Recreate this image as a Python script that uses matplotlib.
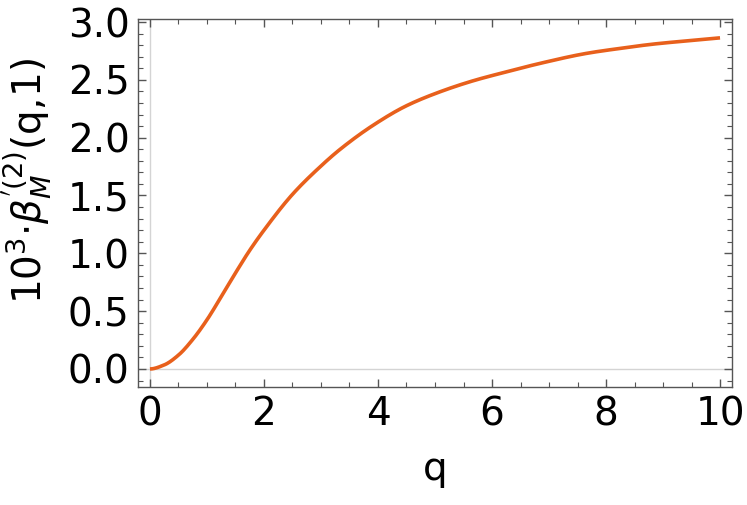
import matplotlib.pyplot as plt
from matplotlib.ticker import MultipleLocator
import numpy as np

# values
q = [0.0, 0.25, 0.5, 0.75, 1.0, 1.25, 1.5, 1.75, 2.0, 2.5, 3.0, 3.33, 3.92,
     4.50, 5.09, 5.67, 6.26, 6.84, 7.66, 8.25, 8.83, 9.42, 10.0]
beta = [0.0, 0.035, 0.12, 0.255, 0.425, 0.625, 0.83, 1.026, 1.20, 1.51, 1.755, 1.897, 2.109,
        2.276, 2.397, 2.492, 2.570, 2.642, 2.729, 2.772, 2.809, 2.837, 2.863]

curve_color = '#e8601c'
frame_color = '#555555'


def pchip(x, y, xn):
    # monotone cubic interpolation through the read points
    x = np.asarray(x, float); y = np.asarray(y, float)
    h = np.diff(x); d = np.diff(y) / h
    m = np.zeros_like(y)
    for i in range(1, len(x) - 1):
        if d[i-1] * d[i] > 0:
            w1 = 2*h[i] + h[i-1]; w2 = h[i] + 2*h[i-1]
            m[i] = (w1 + w2) / (w1/d[i-1] + w2/d[i])
    m[0] = 0.0; m[-1] = d[-1]
    idx = np.clip(np.searchsorted(x, xn) - 1, 0, len(h) - 1)
    t = (xn - x[idx]) / h[idx]
    hh = h[idx]
    return ((2*t**3 - 3*t**2 + 1)*y[idx] + (t**3 - 2*t**2 + t)*hh*m[idx]
            + (-2*t**3 + 3*t**2)*y[idx+1] + (t**3 - t**2)*hh*m[idx+1])


fig = plt.figure(figsize=(7.47, 5.05), dpi=100)
ax = fig.add_axes([138/747, 1 - 387/505, (732-138)/747, (387-19)/505])

qq = np.linspace(0, 10, 600)
ax.plot(qq, pchip(q, beta, qq), color=curve_color, lw=2.6, solid_capstyle='butt', zorder=3)

ax.axhline(0, color='#d4d4d4', lw=1.0, zorder=1)
ax.axvline(0, color='#d4d4d4', lw=1.0, zorder=1)

ax.set_xlim(-0.21, 10.21)
ax.set_ylim(-0.156, 3.026)
ax.xaxis.set_major_locator(MultipleLocator(2))
ax.xaxis.set_minor_locator(MultipleLocator(0.5))
ax.yaxis.set_major_locator(MultipleLocator(0.5))
ax.yaxis.set_minor_locator(MultipleLocator(0.1))
ax.yaxis.set_major_formatter(plt.FuncFormatter(lambda v, p: f'{v:.1f}'))

for s in ax.spines.values():
    s.set_color(frame_color)
    s.set_linewidth(1.0)
ax.tick_params(which='both', direction='in', top=True, right=True,
               color=frame_color, labelsize=28, labelcolor='black')
ax.tick_params(which='major', length=6, width=1.0, pad=6)
ax.tick_params(which='minor', length=3.5, width=0.8)
ax.tick_params(axis='x', which='both', labeltop=False)
ax.tick_params(axis='y', which='both', labelright=False)

ax.set_xlabel('q', fontsize=28, labelpad=12)
ax.set_ylabel(r"$10^3{\cdot}\beta_M^{'(2)}(\mathrm{q},\!1)$", fontsize=28)
ax.yaxis.set_label_coords(-0.14, 0.56)

fig.savefig('out.png', dpi=100)
